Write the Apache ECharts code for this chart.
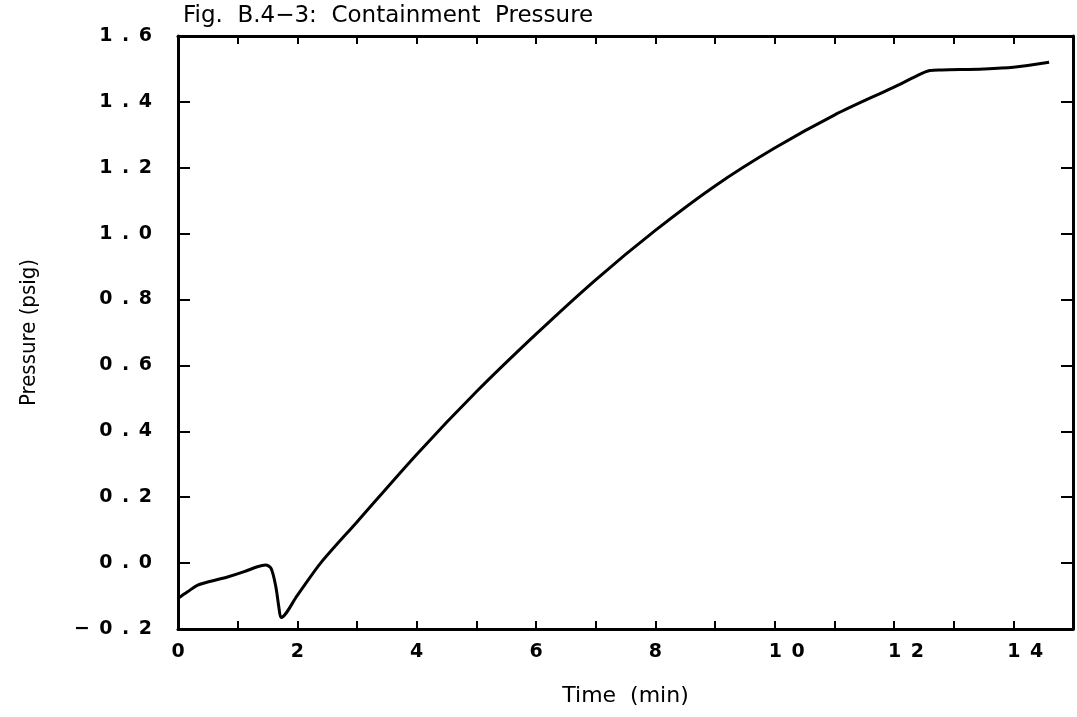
<!DOCTYPE html>
<html><head><meta charset="utf-8">
<script src="https://cdn.jsdelivr.net/npm/echarts@6/dist/echarts.min.js"></script>
<style>html,body{margin:0;padding:0;background:#fff}#c{width:1077px;height:717px}</style>
</head><body><div id="c"></div>
<script>
const title = 'Fig.  B.4\u22123:  Containment  Pressure';
const xName = 'Time  (min)';
const yName = 'Pressure (psig)';
const timeMin = [0, 0.16, 0.33, 0.55, 0.83, 1.11, 1.33, 1.47, 1.56, 1.64, 1.69, 1.73, 2.0, 2.39, 3, 4, 5, 6, 7, 8, 9, 10, 11, 12, 12.45, 12.6, 12.8, 13.5, 14.0, 14.6];
const pressure = [-0.107, -0.087, -0.067, -0.055, -0.042, -0.026, -0.011, -0.006, -0.016, -0.072, -0.133, -0.165, -0.098, 0.0, 0.125, 0.33, 0.52, 0.695, 0.86, 1.01, 1.145, 1.26, 1.36, 1.445, 1.485, 1.495, 1.497, 1.5, 1.505, 1.52];
const xTicks = [0, 2, 4, 6, 8, 10, 12, 14];
const yTicks = ['-0.2', '0.0', '0.2', '0.4', '0.6', '0.8', '1.0', '1.2', '1.4', '1.6'];

const spaced = s => s.replace('-', '\u2212').split('').join('\u2002');
const font = 'DejaVu Sans';
const chart = echarts.init(document.getElementById('c'));
const axisLine = {onZero: false, lineStyle: {color: '#000', width: 3}};
chart.setOption({
  animation: false,
  backgroundColor: '#fff',
  title: {text: title, left: 178, top: 0, textStyle: {fontFamily: font, fontSize: 23, fontWeight: 'normal', color: '#000'}},
  grid: {left: 178, right: 4, top: 36, bottom: 88},
  xAxis: [{
    type: 'value', min: 0, max: 15, interval: 1,
    name: xName, nameLocation: 'middle', nameGap: 56,
    nameTextStyle: {fontFamily: font, fontSize: 22, color: '#000'},
    axisLine: axisLine,
    axisTick: {inside: true, length: 8, lineStyle: {color: '#000', width: 2}},
    splitLine: {show: false},
    axisLabel: {margin: 14, fontFamily: font, fontSize: 19, fontWeight: 'bold', color: '#000',
      formatter: v => !xTicks.includes(v) ? '' : (v >= 10 ? '{r|' + spaced(String(v)) + '}' : spaced(String(v))),
      rich: {r: {fontFamily: font, fontSize: 19, fontWeight: 'bold', color: '#000', padding: [0, 0, 0, 24]}}}
  }, {
    type: 'value', min: 0, max: 15, interval: 1, position: 'top',
    axisLine: axisLine,
    axisTick: {inside: true, length: 8, lineStyle: {color: '#000', width: 2}},
    splitLine: {show: false}, axisLabel: {show: false}
  }],
  yAxis: [{
    type: 'value', min: -0.2, max: 1.6, interval: 0.2,
    name: yName, nameLocation: 'middle', nameGap: 138,
    nameTextStyle: {fontFamily: 'DejaVu Sans Condensed', fontSize: 22, color: '#000'},
    axisLine: axisLine,
    axisTick: {inside: true, length: 12, lineStyle: {color: '#000', width: 2}},
    splitLine: {show: false},
    axisLabel: {margin: 26, fontFamily: font, fontSize: 19, fontWeight: 'bold', color: '#000',
      formatter: v => { const i = Math.round((v + 0.2) / 0.2); return yTicks[i] !== undefined ? spaced(yTicks[i]) : ''; }}
  }, {
    type: 'value', min: -0.2, max: 1.6, interval: 0.2, position: 'right',
    axisLine: axisLine,
    axisTick: {inside: true, length: 12, lineStyle: {color: '#000', width: 2}},
    splitLine: {show: false}, axisLabel: {show: false}
  }],
  series: [{
    type: 'line', xAxisIndex: 0, yAxisIndex: 0, showSymbol: false, smooth: 0.3,
    data: timeMin.map((t, i) => [t, pressure[i]]),
    lineStyle: {color: '#000', width: 3}
  }]
});
</script></body></html>
